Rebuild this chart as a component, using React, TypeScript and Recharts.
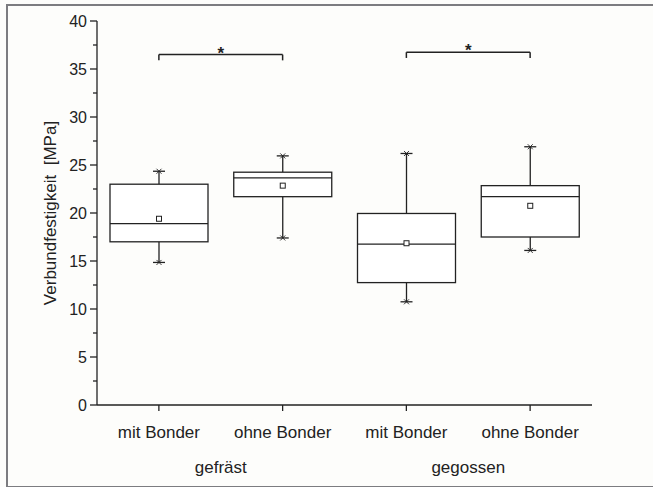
import {
	ComposedChart,
	XAxis,
	YAxis,
	Bar,
	ReferenceLine,
} from "recharts";

// categories and groups
const ids = ["fr-mit", "fr-ohne", "ge-mit", "ge-ohne"];
const names = ["mit Bonder", "ohne Bonder", "mit Bonder", "ohne Bonder"];
const groups = ["gefräst", "gefräst", "gegossen", "gegossen"];

// box statistics [MPa]
const whiskerLow = [14.85, 17.4, 10.75, 16.1];
const q1 = [17.0, 21.7, 12.75, 17.5];
const median = [18.9, 23.65, 16.75, 21.7];
const q3 = [23.0, 24.25, 19.95, 22.85];
const whiskerHigh = [24.35, 25.95, 26.2, 26.9];
const mean = [19.4, 22.85, 16.85, 20.75];

// significance brackets
const brackets = [
	{ from: "fr-mit", to: "fr-ohne", y: 36.5, tip: 35.9 },
	{ from: "ge-mit", to: "ge-ohne", y: 36.75, tip: 36.15 },
];

const yTicks = [
	0, 2.5, 5, 7.5, 10, 12.5, 15, 17.5, 20, 22.5, 25, 27.5, 30, 32.5, 35, 37.5, 40,
];

const data = ids.map((id, i) => ({
	id,
	name: names[i],
	group: groups[i],
	range: [whiskerLow[i], whiskerHigh[i]],
	whiskerLow: whiskerLow[i],
	q1: q1[i],
	median: median[i],
	q3: q3[i],
	whiskerHigh: whiskerHigh[i],
	mean: mean[i],
}));

const FONT = "'Liberation Sans', Arial, sans-serif";
const INK = "#222";

function BoxShape(props: any) {
	const { x, y, width, height, payload } = props;
	const top = Math.min(y, y + height);
	const h = Math.abs(height);
	const lo = payload.whiskerLow;
	const hi = payload.whiskerHigh;
	const py = (v: number) => top + (h * (hi - v)) / (hi - lo);
	const cx = x + width / 2;
	const cap = 6;
	return (
		<g stroke={INK} strokeWidth={1.3} fill="none">
			<line x1={cx} x2={cx} y1={py(hi)} y2={py(payload.q3)} />
			<line x1={cx} x2={cx} y1={py(payload.q1)} y2={py(lo)} />
			<line x1={cx - cap} x2={cx + cap} y1={py(hi)} y2={py(hi)} />
			<line x1={cx - cap} x2={cx + cap} y1={py(lo)} y2={py(lo)} />
			<path
				d={`M${cx - 2.5},${py(hi) - 2.5}L${cx + 2.5},${py(hi) + 2.5}M${cx + 2.5},${py(hi) - 2.5}L${cx - 2.5},${py(hi) + 2.5}`}
				strokeWidth={0.9}
			/>
			<path
				d={`M${cx - 2.5},${py(lo) - 2.5}L${cx + 2.5},${py(lo) + 2.5}M${cx + 2.5},${py(lo) - 2.5}L${cx - 2.5},${py(lo) + 2.5}`}
				strokeWidth={0.9}
			/>
			<rect
				x={x}
				y={py(payload.q3)}
				width={width}
				height={py(payload.q1) - py(payload.q3)}
				fill="#fff"
			/>
			<line x1={x} x2={x + width} y1={py(payload.median)} y2={py(payload.median)} />
			<rect
				x={cx - 2.5}
				y={py(payload.mean) - 2.5}
				width={5}
				height={5}
				strokeWidth={1}
				fill="#fff"
			/>
		</g>
	);
}

function YTick(props: any) {
	const { x, y, payload } = props;
	const major = payload.value % 5 === 0;
	return (
		<g>
			<line
				x1={major ? x + 3 : x + 6}
				x2={x + 10}
				y1={y}
				y2={y}
				stroke={INK}
				strokeWidth={1.3}
			/>
			{major && (
				<text
					x={x}
					y={y}
					textAnchor="end"
					dominantBaseline="central"
					fontSize={16}
					fontFamily={FONT}
					fill={INK}
				>
					{payload.value}
				</text>
			)}
		</g>
	);
}

function App() {
	return (
		<div
			style={{
				position: "absolute",
				left: 0,
				top: 0,
				width: 653,
				height: 487,
				overflow: "hidden",
				background: "#fdfdfb",
			}}
		>
			<div
				style={{
					position: "absolute",
					left: 6,
					top: 4,
					width: 680,
					height: 480,
					border: "2px solid #7c7c80",
				}}
			/>
			<ComposedChart
				width={653}
				height={487}
				data={data}
				margin={{ top: 21, right: 61, bottom: 0, left: 0 }}
				style={{ position: "absolute", left: 0, top: 0 }}
			>
				<XAxis
					dataKey="id"
					tickFormatter={(id: string) => names[ids.indexOf(id)]}
					height={40}
					tickSize={6}
					tickMargin={15}
					stroke={INK}
					axisLine={{ stroke: INK, strokeWidth: 1.3 }}
					tickLine={{ stroke: INK, strokeWidth: 1.3 }}
					tick={{ fontSize: 17, fontFamily: FONT, fill: INK }}
				/>
				<XAxis
					xAxisId="group"
					dataKey="group"
					allowDuplicatedCategory={false}
					height={42}
					axisLine={false}
					tickLine={false}
					tickSize={0}
					tickMargin={16}
					tick={{ fontSize: 17, fontFamily: FONT, fill: INK }}
				/>
				<YAxis
					domain={[0, 40]}
					ticks={yTicks}
					interval={0}
					width={97}
					tickSize={7}
					tickMargin={3}
					tickLine={false}
					axisLine={{ stroke: INK, strokeWidth: 1.3 }}
					tick={<YTick />}
					label={{
						value: "Verbundfestigkeit\u00a0\u00a0[MPa]",
						angle: -90,
						position: "center",
						dx: 1,
						fontSize: 17,
						fontFamily: FONT,
						fill: INK,
					}}
				/>
				<Bar
					dataKey="range"
					barSize={98}
					shape={<BoxShape />}
					isAnimationActive={false}
				/>
				{brackets.map((b, i) => (
					<ReferenceLine
						key={`h${i}`}
						segment={[
							{ x: b.from, y: b.y },
							{ x: b.to, y: b.y },
						]}
						stroke={INK}
						strokeWidth={1.5}
						label={{
							value: "*",
							position: "top",
							offset: -4,
							fontSize: 17,
							fontWeight: "bold",
							fontFamily: FONT,
							fill: INK,
						}}
					/>
				))}
				{brackets.map((b, i) => (
					<ReferenceLine
						key={`l${i}`}
						segment={[
							{ x: b.from, y: b.y },
							{ x: b.from, y: b.tip },
						]}
						stroke={INK}
						strokeWidth={1.5}
					/>
				))}
				{brackets.map((b, i) => (
					<ReferenceLine
						key={`r${i}`}
						segment={[
							{ x: b.to, y: b.y },
							{ x: b.to, y: b.tip },
						]}
						stroke={INK}
						strokeWidth={1.5}
					/>
				))}
			</ComposedChart>
		</div>
	);
}

export default App;
